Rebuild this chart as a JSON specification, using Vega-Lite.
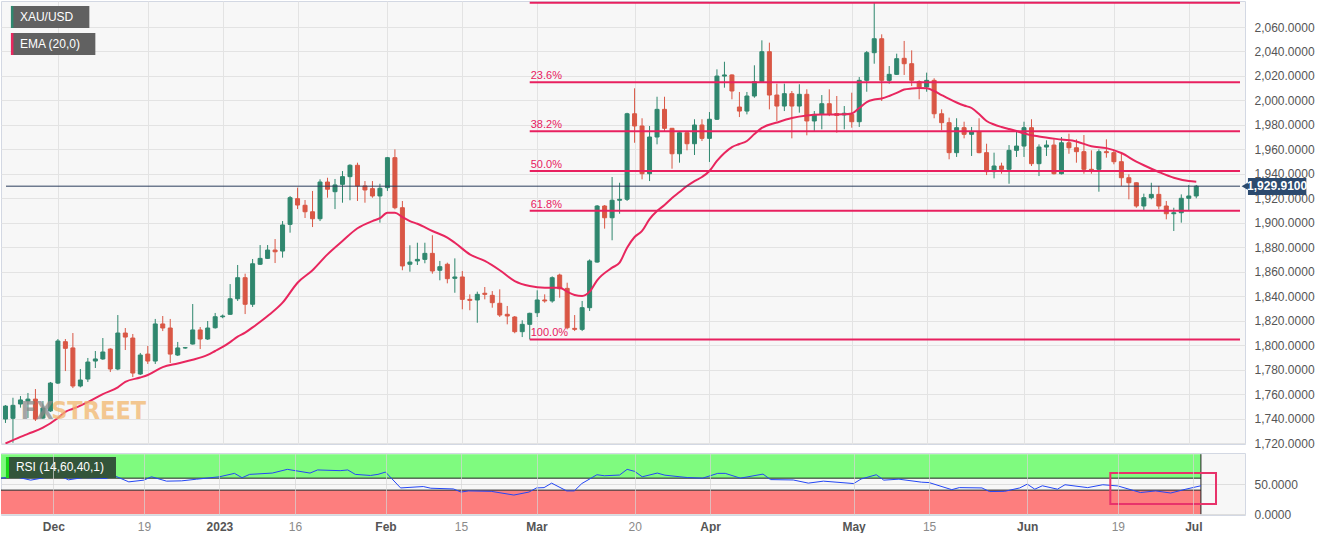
{
  "$schema": "https://vega.github.io/schema/vega-lite/v6.json",
  "padding": 0,
  "background": "#ffffff",
  "spacing": 2,
  "config": {
    "font": "Liberation Sans",
    "view": {"stroke": "#d3d8e3", "fill": "#f7f7f7"},
    "axis": {"labelFont": "Liberation Sans", "labelFontSize": 12, "labelColor": "#555555", "gridColor": "#e3e3e3", "gridWidth": 1, "domain": false, "ticks": false, "tickSize": 0, "labelOverlap": false}
  },
  "datasets": {
    "candles": [
      {"d":"2022-11-22","s":-7,"o":1739.6,"h":1751.0,"l":1736.4,"c":1750.2},
      {"d":"2022-11-23","s":-6,"o":1740.2,"h":1757.0,"l":1720.2,"c":1750.8},
      {"d":"2022-11-24","s":-5,"o":1751.9,"h":1758.4,"l":1748.9,"c":1755.2},
      {"d":"2022-11-25","s":-4,"o":1754.3,"h":1760.9,"l":1740.4,"c":1755.9},
      {"d":"2022-11-28","s":-3,"o":1755.9,"h":1764.1,"l":1738.0,"c":1739.6},
      {"d":"2022-11-29","s":-2,"o":1740.4,"h":1754.3,"l":1739.6,"c":1748.6},
      {"d":"2022-11-30","s":-1,"o":1746.2,"h":1769.9,"l":1745.4,"c":1769.0},
      {"d":"2022-12-01","s":0,"o":1769.0,"h":1805.0,"l":1768.2,"c":1803.4},
      {"d":"2022-12-02","s":1,"o":1802.8,"h":1805.0,"l":1778.8,"c":1797.4},
      {"d":"2022-12-05","s":2,"o":1797.7,"h":1809.9,"l":1764.9,"c":1766.6},
      {"d":"2022-12-06","s":3,"o":1766.6,"h":1780.5,"l":1765.5,"c":1771.5},
      {"d":"2022-12-07","s":4,"o":1772.3,"h":1789.5,"l":1769.9,"c":1786.2},
      {"d":"2022-12-08","s":5,"o":1787.0,"h":1795.2,"l":1781.3,"c":1788.7},
      {"d":"2022-12-09","s":6,"o":1788.7,"h":1805.8,"l":1788.0,"c":1794.4},
      {"d":"2022-12-12","s":7,"o":1796.8,"h":1797.5,"l":1778.0,"c":1780.5},
      {"d":"2022-12-13","s":8,"o":1780.5,"h":1824.6,"l":1779.5,"c":1809.9},
      {"d":"2022-12-14","s":9,"o":1809.9,"h":1814.0,"l":1796.0,"c":1806.6},
      {"d":"2022-12-15","s":10,"o":1805.8,"h":1809.1,"l":1773.9,"c":1777.2},
      {"d":"2022-12-16","s":11,"o":1776.4,"h":1793.6,"l":1775.6,"c":1791.9},
      {"d":"2022-12-19","s":12,"o":1792.7,"h":1799.3,"l":1784.6,"c":1787.0},
      {"d":"2022-12-20","s":13,"o":1787.0,"h":1821.4,"l":1784.6,"c":1817.3},
      {"d":"2022-12-21","s":14,"o":1817.3,"h":1823.8,"l":1811.5,"c":1814.0},
      {"d":"2022-12-22","s":15,"o":1814.0,"h":1821.4,"l":1785.4,"c":1792.7},
      {"d":"2022-12-23","s":16,"o":1791.9,"h":1802.6,"l":1791.1,"c":1797.7},
      {"d":"2022-12-26","s":17,"o":1797.7,"h":1798.5,"l":1797.0,"c":1797.9},
      {"d":"2022-12-27","s":18,"o":1800.9,"h":1833.6,"l":1800.5,"c":1812.4},
      {"d":"2022-12-28","s":19,"o":1812.4,"h":1814.8,"l":1796.8,"c":1805.0},
      {"d":"2022-12-29","s":20,"o":1805.0,"h":1819.7,"l":1804.2,"c":1814.0},
      {"d":"2022-12-30","s":21,"o":1814.2,"h":1826.3,"l":1813.5,"c":1823.2},
      {"d":"2023-01-02","s":22,"o":1823.2,"h":1825.0,"l":1822.0,"c":1823.8},
      {"d":"2023-01-03","s":23,"o":1825.2,"h":1849.9,"l":1824.8,"c":1837.9},
      {"d":"2023-01-04","s":24,"o":1837.9,"h":1865.5,"l":1836.1,"c":1855.1},
      {"d":"2023-01-05","s":25,"o":1855.1,"h":1858.4,"l":1825.4,"c":1833.4},
      {"d":"2023-01-06","s":26,"o":1833.4,"h":1870.4,"l":1831.2,"c":1866.5},
      {"d":"2023-01-09","s":27,"o":1866.1,"h":1881.8,"l":1865.5,"c":1870.9},
      {"d":"2023-01-10","s":28,"o":1870.9,"h":1881.8,"l":1870.4,"c":1877.7},
      {"d":"2023-01-11","s":29,"o":1877.7,"h":1886.7,"l":1867.1,"c":1876.3},
      {"d":"2023-01-12","s":30,"o":1876.9,"h":1901.4,"l":1871.5,"c":1898.2},
      {"d":"2023-01-13","s":31,"o":1898.7,"h":1921.9,"l":1891.9,"c":1920.5},
      {"d":"2023-01-16","s":32,"o":1919.7,"h":1928.7,"l":1911.2,"c":1914.5},
      {"d":"2023-01-17","s":33,"o":1914.3,"h":1918.6,"l":1903.9,"c":1909.0},
      {"d":"2023-01-18","s":34,"o":1909.0,"h":1926.0,"l":1896.5,"c":1903.3},
      {"d":"2023-01-19","s":35,"o":1903.3,"h":1935.5,"l":1901.4,"c":1933.3},
      {"d":"2023-01-20","s":36,"o":1933.3,"h":1936.8,"l":1920.5,"c":1927.4},
      {"d":"2023-01-23","s":37,"o":1925.4,"h":1935.8,"l":1911.2,"c":1930.9},
      {"d":"2023-01-24","s":38,"o":1931.4,"h":1942.3,"l":1916.4,"c":1937.7},
      {"d":"2023-01-25","s":39,"o":1937.7,"h":1947.8,"l":1918.4,"c":1947.0},
      {"d":"2023-01-26","s":40,"o":1947.0,"h":1949.1,"l":1917.8,"c":1930.1},
      {"d":"2023-01-27","s":41,"o":1930.1,"h":1934.1,"l":1916.4,"c":1926.8},
      {"d":"2023-01-30","s":42,"o":1927.9,"h":1934.1,"l":1920.5,"c":1921.9},
      {"d":"2023-01-31","s":43,"o":1921.9,"h":1931.9,"l":1900.1,"c":1928.2},
      {"d":"2023-02-01","s":44,"o":1928.7,"h":1953.8,"l":1926.0,"c":1953.2},
      {"d":"2023-02-02","s":45,"o":1953.2,"h":1960.0,"l":1911.0,"c":1912.3},
      {"d":"2023-02-03","s":46,"o":1912.3,"h":1917.8,"l":1861.2,"c":1864.7},
      {"d":"2023-02-06","s":47,"o":1866.1,"h":1881.6,"l":1860.0,"c":1867.9},
      {"d":"2023-02-07","s":48,"o":1868.8,"h":1883.7,"l":1865.5,"c":1870.1},
      {"d":"2023-02-08","s":49,"o":1870.1,"h":1883.7,"l":1866.9,"c":1875.0},
      {"d":"2023-02-09","s":50,"o":1875.0,"h":1889.8,"l":1858.4,"c":1860.6},
      {"d":"2023-02-10","s":51,"o":1861.2,"h":1868.8,"l":1853.0,"c":1864.1},
      {"d":"2023-02-13","s":52,"o":1866.1,"h":1867.4,"l":1850.5,"c":1854.3},
      {"d":"2023-02-14","s":53,"o":1854.6,"h":1870.9,"l":1842.8,"c":1855.7},
      {"d":"2023-02-15","s":54,"o":1855.7,"h":1860.6,"l":1829.3,"c":1837.4},
      {"d":"2023-02-16","s":55,"o":1837.4,"h":1841.5,"l":1828.5,"c":1836.6},
      {"d":"2023-02-17","s":56,"o":1836.9,"h":1843.7,"l":1818.3,"c":1841.5},
      {"d":"2023-02-20","s":57,"o":1842.4,"h":1847.5,"l":1837.4,"c":1841.5},
      {"d":"2023-02-21","s":58,"o":1840.7,"h":1844.2,"l":1830.6,"c":1834.7},
      {"d":"2023-02-22","s":59,"o":1834.2,"h":1845.6,"l":1823.0,"c":1824.6},
      {"d":"2023-02-23","s":60,"o":1825.2,"h":1832.0,"l":1817.0,"c":1823.8},
      {"d":"2023-02-24","s":61,"o":1823.0,"h":1823.8,"l":1809.7,"c":1811.0},
      {"d":"2023-02-27","s":62,"o":1811.0,"h":1820.3,"l":1806.6,"c":1817.0},
      {"d":"2023-02-28","s":63,"o":1817.0,"h":1826.5,"l":1804.7,"c":1826.0},
      {"d":"2023-03-01","s":64,"o":1826.5,"h":1844.8,"l":1823.0,"c":1836.9},
      {"d":"2023-03-02","s":65,"o":1836.9,"h":1841.5,"l":1834.7,"c":1836.1},
      {"d":"2023-03-03","s":66,"o":1836.1,"h":1856.2,"l":1834.7,"c":1855.1},
      {"d":"2023-03-06","s":67,"o":1857.3,"h":1858.4,"l":1838.8,"c":1846.0},
      {"d":"2023-03-07","s":68,"o":1846.4,"h":1851.0,"l":1812.9,"c":1814.2},
      {"d":"2023-03-08","s":69,"o":1813.7,"h":1824.6,"l":1811.5,"c":1812.9},
      {"d":"2023-03-09","s":70,"o":1812.9,"h":1836.1,"l":1811.5,"c":1830.6},
      {"d":"2023-03-10","s":71,"o":1830.6,"h":1870.1,"l":1827.9,"c":1868.8},
      {"d":"2023-03-13","s":72,"o":1867.9,"h":1914.5,"l":1867.4,"c":1913.7},
      {"d":"2023-03-14","s":73,"o":1913.7,"h":1914.5,"l":1895.2,"c":1904.1},
      {"d":"2023-03-15","s":74,"o":1904.1,"h":1937.4,"l":1885.7,"c":1918.4},
      {"d":"2023-03-16","s":75,"o":1918.4,"h":1932.7,"l":1907.4,"c":1919.2},
      {"d":"2023-03-17","s":76,"o":1919.2,"h":1989.9,"l":1917.8,"c":1989.1},
      {"d":"2023-03-20","s":77,"o":1989.1,"h":2009.9,"l":1965.4,"c":1979.1},
      {"d":"2023-03-21","s":78,"o":1979.1,"h":1985.4,"l":1935.5,"c":1940.1},
      {"d":"2023-03-22","s":79,"o":1940.1,"h":1979.1,"l":1934.1,"c":1970.1},
      {"d":"2023-03-23","s":80,"o":1970.1,"h":2003.0,"l":1964.1,"c":1992.7},
      {"d":"2023-03-24","s":81,"o":1992.7,"h":2003.0,"l":1975.0,"c":1977.2},
      {"d":"2023-03-27","s":82,"o":1977.2,"h":1977.5,"l":1944.2,"c":1956.4},
      {"d":"2023-03-28","s":83,"o":1956.4,"h":1974.0,"l":1949.1,"c":1973.6},
      {"d":"2023-03-29","s":84,"o":1973.6,"h":1974.0,"l":1959.2,"c":1964.6},
      {"d":"2023-03-30","s":85,"o":1964.6,"h":1984.6,"l":1955.4,"c":1979.9},
      {"d":"2023-03-31","s":86,"o":1979.9,"h":1984.6,"l":1966.8,"c":1969.0},
      {"d":"2023-04-03","s":87,"o":1969.0,"h":1990.5,"l":1949.7,"c":1984.6},
      {"d":"2023-04-04","s":88,"o":1984.6,"h":2025.4,"l":1984.0,"c":2019.9},
      {"d":"2023-04-05","s":89,"o":2019.9,"h":2031.6,"l":2010.4,"c":2020.8},
      {"d":"2023-04-06","s":90,"o":2020.8,"h":2021.3,"l":2000.9,"c":2007.7},
      {"d":"2023-04-10","s":91,"o":1994.6,"h":2006.9,"l":1986.4,"c":1991.3},
      {"d":"2023-04-11","s":92,"o":1991.3,"h":2006.9,"l":1988.6,"c":2003.6},
      {"d":"2023-04-12","s":93,"o":2003.6,"h":2028.7,"l":2002.2,"c":2015.3},
      {"d":"2023-04-13","s":94,"o":2015.3,"h":2049.1,"l":2014.8,"c":2039.8},
      {"d":"2023-04-14","s":95,"o":2039.8,"h":2047.2,"l":1992.7,"c":2004.4},
      {"d":"2023-04-17","s":96,"o":2004.4,"h":2013.7,"l":1983.2,"c":1995.4},
      {"d":"2023-04-18","s":97,"o":1995.4,"h":2013.7,"l":1991.3,"c":2005.5},
      {"d":"2023-04-19","s":98,"o":2005.5,"h":2007.7,"l":1969.0,"c":1995.4},
      {"d":"2023-04-20","s":99,"o":1995.4,"h":2013.2,"l":1990.0,"c":2005.0},
      {"d":"2023-04-21","s":100,"o":2005.0,"h":2009.1,"l":1971.5,"c":1983.2},
      {"d":"2023-04-24","s":101,"o":1983.2,"h":1991.3,"l":1975.0,"c":1988.6},
      {"d":"2023-04-25","s":102,"o":1988.6,"h":2004.4,"l":1976.4,"c":1997.3},
      {"d":"2023-04-26","s":103,"o":1997.3,"h":2009.1,"l":1987.2,"c":1988.6},
      {"d":"2023-04-27","s":104,"o":1989.3,"h":2003.6,"l":1973.6,"c":1987.7},
      {"d":"2023-04-28","s":105,"o":1988.1,"h":1995.4,"l":1976.4,"c":1989.5},
      {"d":"2023-05-01","s":106,"o":1988.6,"h":2006.3,"l":1977.7,"c":1982.6},
      {"d":"2023-05-02","s":107,"o":1982.6,"h":2019.1,"l":1978.3,"c":2016.4},
      {"d":"2023-05-03","s":108,"o":2016.4,"h":2040.4,"l":2007.1,"c":2039.0},
      {"d":"2023-05-04","s":109,"o":2039.0,"h":2079.8,"l":2030.0,"c":2050.4},
      {"d":"2023-05-05","s":110,"o":2050.4,"h":2054.0,"l":1999.5,"c":2016.4},
      {"d":"2023-05-08","s":111,"o":2016.4,"h":2028.1,"l":2013.7,"c":2021.3},
      {"d":"2023-05-09","s":112,"o":2021.3,"h":2038.2,"l":2020.8,"c":2034.1},
      {"d":"2023-05-10","s":113,"o":2034.4,"h":2048.6,"l":2020.8,"c":2030.0},
      {"d":"2023-05-11","s":114,"o":2030.0,"h":2040.9,"l":2011.8,"c":2016.4},
      {"d":"2023-05-12","s":115,"o":2015.3,"h":2016.4,"l":2000.9,"c":2011.0},
      {"d":"2023-05-15","s":116,"o":2011.0,"h":2022.7,"l":2007.1,"c":2016.4},
      {"d":"2023-05-16","s":117,"o":2016.4,"h":2018.1,"l":1985.4,"c":1989.1},
      {"d":"2023-05-17","s":118,"o":1989.1,"h":1992.7,"l":1975.6,"c":1981.8},
      {"d":"2023-05-18","s":119,"o":1981.8,"h":1985.9,"l":1951.9,"c":1957.3},
      {"d":"2023-05-19","s":120,"o":1957.3,"h":1985.4,"l":1953.8,"c":1977.7},
      {"d":"2023-05-22","s":121,"o":1977.7,"h":1982.6,"l":1969.0,"c":1972.3},
      {"d":"2023-05-23","s":122,"o":1972.3,"h":1978.3,"l":1954.6,"c":1974.4},
      {"d":"2023-05-24","s":123,"o":1974.4,"h":1985.4,"l":1956.8,"c":1957.3},
      {"d":"2023-05-25","s":124,"o":1957.3,"h":1964.6,"l":1939.0,"c":1941.8},
      {"d":"2023-05-26","s":125,"o":1941.8,"h":1957.3,"l":1936.3,"c":1946.4},
      {"d":"2023-05-29","s":126,"o":1946.4,"h":1949.1,"l":1940.1,"c":1943.7},
      {"d":"2023-05-30","s":127,"o":1943.7,"h":1963.5,"l":1931.9,"c":1959.2},
      {"d":"2023-05-31","s":128,"o":1959.2,"h":1975.0,"l":1953.8,"c":1962.7},
      {"d":"2023-06-01","s":129,"o":1962.7,"h":1982.6,"l":1953.8,"c":1977.7},
      {"d":"2023-06-02","s":130,"o":1977.7,"h":1984.6,"l":1946.4,"c":1948.3},
      {"d":"2023-06-05","s":131,"o":1948.3,"h":1964.1,"l":1938.2,"c":1961.9},
      {"d":"2023-06-06","s":132,"o":1961.9,"h":1967.4,"l":1954.6,"c":1963.5},
      {"d":"2023-06-07","s":133,"o":1963.5,"h":1968.2,"l":1939.5,"c":1940.1},
      {"d":"2023-06-08","s":134,"o":1940.1,"h":1970.1,"l":1939.5,"c":1965.4},
      {"d":"2023-06-09","s":135,"o":1965.4,"h":1972.8,"l":1956.4,"c":1961.3},
      {"d":"2023-06-12","s":136,"o":1961.3,"h":1968.2,"l":1949.1,"c":1958.1},
      {"d":"2023-06-13","s":137,"o":1958.1,"h":1971.7,"l":1940.1,"c":1943.7},
      {"d":"2023-06-14","s":138,"o":1943.7,"h":1959.2,"l":1940.1,"c":1942.9},
      {"d":"2023-06-15","s":139,"o":1943.7,"h":1960.0,"l":1925.4,"c":1958.1},
      {"d":"2023-06-16","s":140,"o":1958.1,"h":1968.2,"l":1953.2,"c":1957.3},
      {"d":"2023-06-19","s":141,"o":1957.3,"h":1960.0,"l":1947.8,"c":1949.9},
      {"d":"2023-06-20","s":142,"o":1949.9,"h":1956.4,"l":1930.1,"c":1936.8},
      {"d":"2023-06-21","s":143,"o":1936.8,"h":1939.6,"l":1919.2,"c":1932.7},
      {"d":"2023-06-22","s":144,"o":1932.7,"h":1933.0,"l":1912.3,"c":1913.7},
      {"d":"2023-06-23","s":145,"o":1913.7,"h":1923.8,"l":1909.6,"c":1920.5},
      {"d":"2023-06-26","s":146,"o":1920.5,"h":1932.7,"l":1919.2,"c":1923.2},
      {"d":"2023-06-27","s":147,"o":1923.2,"h":1930.1,"l":1911.0,"c":1913.7},
      {"d":"2023-06-28","s":148,"o":1913.7,"h":1917.8,"l":1902.8,"c":1907.4},
      {"d":"2023-06-29","s":149,"o":1907.4,"h":1912.3,"l":1893.3,"c":1908.2},
      {"d":"2023-06-30","s":150,"o":1908.2,"h":1923.2,"l":1900.1,"c":1920.0},
      {"d":"2023-07-03","s":151,"o":1920.0,"h":1930.9,"l":1910.2,"c":1921.9},
      {"d":"2023-07-04","s":152,"o":1921.9,"h":1930.9,"l":1920.0,"c":1929.9}
    ],
    "ema": [
      {"s":-7,"v":1719.6},{"s":-5,"v":1725},{"s":-4,"v":1727.5},{"s":-2,"v":1732.5},{"s":0,"v":1740.5},{"s":1,"v":1745.5},{"s":2,"v":1748},{"s":3,"v":1750.5},{"s":4,"v":1753.5},{"s":6,"v":1760},{"s":8,"v":1765.5},{"s":9,"v":1770},{"s":11,"v":1773.5},{"s":12,"v":1775.6},{"s":14,"v":1782},{"s":16,"v":1785},{"s":18,"v":1788},{"s":20,"v":1792},{"s":21,"v":1795.2},{"s":22,"v":1798.5},{"s":23,"v":1802.5},{"s":24,"v":1806.9},{"s":25,"v":1810.2},{"s":26,"v":1814.5},{"s":28,"v":1823.8},{"s":30,"v":1834.7},{"s":32,"v":1851},{"s":34,"v":1861.2},{"s":36,"v":1874.2},{"s":38,"v":1885.1},{"s":40,"v":1895.5},{"s":42,"v":1901.4},{"s":43,"v":1903.7},{"s":44,"v":1908.2},{"s":45,"v":1908.2},{"s":46,"v":1904.7},{"s":47,"v":1901.4},{"s":48,"v":1899.2},{"s":50,"v":1893.3},{"s":52,"v":1887.8},{"s":53,"v":1883.7},{"s":55,"v":1874.2},{"s":57,"v":1868.8},{"s":59,"v":1861.2},{"s":61,"v":1852.4},{"s":63,"v":1848.3},{"s":65,"v":1846.9},{"s":67,"v":1846.9},{"s":68,"v":1843.7},{"s":69,"v":1841},{"s":70,"v":1840.2},{"s":71,"v":1843.7},{"s":72,"v":1853},{"s":74,"v":1863.3},{"s":75,"v":1867.4},{"s":76,"v":1879.6},{"s":77,"v":1888.4},{"s":78,"v":1893.3},{"s":79,"v":1903},{"s":80,"v":1909.6},{"s":81,"v":1914.5},{"s":82,"v":1920.2},{"s":83,"v":1925.1},{"s":84,"v":1930},{"s":85,"v":1934.1},{"s":86,"v":1937.4},{"s":87,"v":1942.3},{"s":88,"v":1950.5},{"s":89,"v":1957},{"s":90,"v":1961.9},{"s":91,"v":1964.4},{"s":92,"v":1966.8},{"s":93,"v":1972.5},{"s":94,"v":1977.5},{"s":96,"v":1981.9},{"s":98,"v":1985.6},{"s":100,"v":1987.7},{"s":102,"v":1988.5},{"s":105,"v":1988.6},{"s":106,"v":1989.3},{"s":107,"v":1993.8},{"s":108,"v":1998.7},{"s":109,"v":2000.7},{"s":110,"v":2001.6},{"s":111,"v":2003.6},{"s":112,"v":2006.1},{"s":113,"v":2008.9},{"s":114,"v":2009.7},{"s":115,"v":2010.1},{"s":116,"v":2009.9},{"s":117,"v":2007.7},{"s":118,"v":2004.4},{"s":119,"v":2001.2},{"s":120,"v":1998.3},{"s":121,"v":1995.8},{"s":122,"v":1993.8},{"s":123,"v":1988.9},{"s":124,"v":1983.2},{"s":125,"v":1980.3},{"s":126,"v":1978.3},{"s":127,"v":1976.6},{"s":128,"v":1975},{"s":129,"v":1973},{"s":131,"v":1970.5},{"s":134,"v":1968},{"s":136,"v":1966.5},{"s":138,"v":1962.5},{"s":140,"v":1961},{"s":142,"v":1957},{"s":144,"v":1950},{"s":145,"v":1947},{"s":147,"v":1941.5},{"s":149,"v":1936.8},{"s":151,"v":1934.1},{"s":152,"v":1933.6}
    ],
    "rsi": [
      {"s":-7,"v":60},{"s":-5,"v":62.3},{"s":-3,"v":56.7},{"s":-1,"v":61.2},{"s":0,"v":68.5},{"s":2,"v":57.2},{"s":4,"v":61.1},{"s":7,"v":59.5},{"s":8,"v":64.5},{"s":10,"v":53.8},{"s":12,"v":56.7},{"s":13,"v":62.3},{"s":15,"v":55},{"s":17,"v":55.5},{"s":19,"v":58.3},{"s":22,"v":62.3},{"s":24,"v":68},{"s":25,"v":60.7},{"s":26,"v":66.3},{"s":29,"v":68.5},{"s":31,"v":74.7},{"s":34,"v":68.5},{"s":35,"v":73.7},{"s":38,"v":72.5},{"s":39,"v":73.7},{"s":40,"v":66.3},{"s":42,"v":64.5},{"s":43,"v":66.3},{"s":44,"v":70.2},{"s":46,"v":43.7},{"s":49,"v":46},{"s":50,"v":43.2},{"s":53,"v":42},{"s":54,"v":36.8},{"s":55,"v":38.7},{"s":58,"v":38},{"s":61,"v":31.8},{"s":63,"v":36.8},{"s":64,"v":43.7},{"s":65,"v":44.2},{"s":66,"v":51.7},{"s":68,"v":38.7},{"s":69,"v":38.7},{"s":70,"v":51},{"s":72,"v":65.7},{"s":73,"v":64},{"s":75,"v":65.2},{"s":76,"v":74.7},{"s":77,"v":71.3},{"s":78,"v":62.3},{"s":80,"v":68.5},{"s":81,"v":65},{"s":83,"v":62.3},{"s":84,"v":61},{"s":86,"v":60},{"s":88,"v":68},{"s":89,"v":68},{"s":91,"v":60},{"s":94,"v":66.8},{"s":95,"v":57.6},{"s":98,"v":57},{"s":100,"v":51.7},{"s":102,"v":55},{"s":106,"v":51},{"s":107,"v":58.6},{"s":109,"v":65.7},{"s":110,"v":56.7},{"s":112,"v":58.3},{"s":115,"v":53.3},{"s":116,"v":52.6},{"s":119,"v":40.8},{"s":120,"v":44.2},{"s":123,"v":43.7},{"s":124,"v":37.6},{"s":126,"v":38},{"s":128,"v":43.7},{"s":129,"v":50},{"s":130,"v":41.6},{"s":131,"v":47.3},{"s":133,"v":41.6},{"s":134,"v":49},{"s":137,"v":44.2},{"s":139,"v":49},{"s":141,"v":47},{"s":144,"v":36},{"s":146,"v":38.7},{"s":148,"v":35.2},{"s":150,"v":41.6},{"s":152,"v":47.3}
    ],
    "fib": [
      {"lvl":"0.0%","p":2079.8,"from":63},
      {"lvl":"23.6%","p":2014.9,"from":63},
      {"lvl":"38.2%","p":1974.7,"from":63},
      {"lvl":"50.0%","p":1942.3,"from":63},
      {"lvl":"61.8%","p":1909.8,"from":63},
      {"lvl":"100.0%","p":1804.7,"from":63}
    ],
    "zones": [
      {"zone":"overbought","lo":60,"hi":100,"edge":60},
      {"zone":"oversold","lo":0,"hi":40,"edge":40}
    ],
    "one": [{}]
  },
  "vconcat": [
    {
      "width": 1244,
      "height": 443,
      "encoding": {
        "x": {"type": "quantitative", "scale": {"domain": [-6.93, 157.84], "nice": false, "zero": false},
              "axis": {"values": [0,12,22,32,44,54,64,77,87,106,116,129,141,151], "labels": false, "grid": true, "title": null}},
        "y": {"type": "quantitative", "scale": {"domain": [1719.2, 2081.25], "nice": false, "zero": false},
              "axis": {"orient": "right", "values": [1720,1740,1760,1780,1800,1820,1840,1860,1880,1900,1920,1940,1960,1980,2000,2020,2040,2060], "format": ",.4f", "labelPadding": 9, "grid": true, "title": null, "labelOverlap": false}}
      },
      "layer": [
        {
          "data": {"name": "candles"},
          "mark": {"type": "rule", "strokeWidth": 1, "clip": true},
          "encoding": {
            "x": {"field": "s"},
            "y": {"field": "l"},
            "y2": {"field": "h"},
            "color": {"condition": {"test": "datum.c >= datum.o", "value": "#2f876e"}, "value": "#d95745"}
          }
        },
        {
          "data": {"name": "candles"},
          "mark": {"type": "bar", "size": 4, "strokeWidth": 1, "clip": true},
          "encoding": {
            "x": {"field": "s"},
            "y": {"field": "o"},
            "y2": {"field": "c"},
            "color": {"condition": {"test": "datum.c >= datum.o", "value": "#2f876e"}, "value": "#d95745"},
            "stroke": {"condition": {"test": "datum.c >= datum.o", "value": "#2f876e"}, "value": "#d95745"}
          }
        },
        {
          "data": {"name": "ema"},
          "mark": {"type": "line", "color": "#e8265e", "strokeWidth": 2, "interpolate": "monotone", "clip": true},
          "encoding": {"x": {"field": "s"}, "y": {"field": "v"}}
        },
        {
          "data": {"name": "fib"},
          "mark": {"type": "rule", "color": "#e8205f", "strokeWidth": 2, "clip": true},
          "encoding": {"x": {"field": "from"}, "x2": {"datum": 157.84}, "y": {"field": "p"}}
        },
        {
          "data": {"name": "fib"},
          "transform": [{"filter": "datum.lvl != '0.0%'"}],
          "mark": {"type": "text", "color": "#e8205f", "align": "left", "baseline": "bottom", "fontSize": 11, "dx": 1, "dy": -1},
          "encoding": {"x": {"field": "from"}, "y": {"field": "p"}, "text": {"field": "lvl"}}
        },
        {
          "data": {"name": "one"},
          "mark": {"type": "rule", "color": "#2c3e5c", "strokeWidth": 1},
          "encoding": {"x": {"datum": -6.93}, "x2": {"datum": 157.84}, "y": {"datum": 1929.91}}
        },
        {
          "data": {"name": "one"},
          "mark": {"type": "text", "text": "FX", "font": "DejaVu Sans Condensed", "fontWeight": "bold", "fontSize": 25, "color": "#8a8a8a", "opacity": 0.75, "align": "left", "baseline": "middle"},
          "encoding": {"x": {"datum": -4.95}, "y": {"datum": 1746.2}}
        },
        {
          "data": {"name": "one"},
          "mark": {"type": "text", "text": "STREET", "font": "DejaVu Sans Condensed", "fontWeight": "bold", "fontSize": 25, "color": "#f2b86e", "opacity": 0.75, "align": "left", "baseline": "middle"},
          "encoding": {"x": {"datum": -0.9}, "y": {"datum": 1746.2}}
        },
        {
          "data": {"name": "one"},
          "mark": {"type": "rect", "color": "#616161"},
          "encoding": {"x": {"datum": -6.27}, "x2": {"datum": 4.2}, "y": {"datum": 2059.2}, "y2": {"datum": 2077.2}}
        },
        {
          "data": {"name": "one"},
          "mark": {"type": "rect", "color": "#2f876e"},
          "encoding": {"x": {"datum": -6.27}, "x2": {"datum": -5.94}, "y": {"datum": 2059.2}, "y2": {"datum": 2077.2}}
        },
        {
          "data": {"name": "one"},
          "mark": {"type": "text", "text": "XAU/USD", "color": "#ffffff", "fontSize": 12, "align": "left", "baseline": "middle"},
          "encoding": {"x": {"datum": -5.07}, "y": {"datum": 2068.2}}
        },
        {
          "data": {"name": "one"},
          "mark": {"type": "rect", "color": "#616161"},
          "encoding": {"x": {"datum": -6.27}, "x2": {"datum": 5.0}, "y": {"datum": 2037.1}, "y2": {"datum": 2055.1}}
        },
        {
          "data": {"name": "one"},
          "mark": {"type": "rect", "color": "#e8265e"},
          "encoding": {"x": {"datum": -6.27}, "x2": {"datum": -5.94}, "y": {"datum": 2037.1}, "y2": {"datum": 2055.1}}
        },
        {
          "data": {"name": "one"},
          "mark": {"type": "text", "text": "EMA (20,0)", "color": "#ffffff", "fontSize": 12, "align": "left", "baseline": "middle"},
          "encoding": {"x": {"datum": -5.07}, "y": {"datum": 2046.1}}
        },
        {
          "data": {"name": "one"},
          "mark": {"type": "rect", "color": "#2c4a6e"},
          "encoding": {"x": {"datum": 158.9}, "x2": {"datum": 166.7}, "y": {"datum": 1922.7}, "y2": {"datum": 1936.6}}
        },
        {
          "data": {"name": "one"},
          "mark": {"type": "point", "shape": "triangle-left", "filled": true, "color": "#2c4a6e", "size": 90, "opacity": 1},
          "encoding": {"x": {"datum": 158.6}, "y": {"datum": 1929.91}}
        },
        {
          "data": {"name": "one"},
          "mark": {"type": "text", "text": "1,929.9100", "color": "#ffffff", "fontSize": 12, "fontWeight": "bold", "align": "center", "baseline": "middle"},
          "encoding": {"x": {"datum": 162.8}, "y": {"datum": 1929.91}}
        }
      ]
    },
    {
      "width": 1244,
      "height": 62,
      "encoding": {
        "x": {"type": "quantitative", "scale": {"domain": [-6.93, 157.84], "nice": false, "zero": false},
              "axis": {"values": [0,12,22,32,44,54,64,77,87,106,116,129,141,151], "grid": true, "gridColor": "#d6d6d6", "gridOpacity": 0.7, "zindex": 1, "title": null, "labelPadding": 6, "labelFontSize": 12,
                       "labelExpr": "datum.value==0?'Dec':datum.value==12?'19':datum.value==22?'2023':datum.value==32?'16':datum.value==44?'Feb':datum.value==54?'15':datum.value==64?'Mar':datum.value==77?'20':datum.value==87?'Apr':datum.value==106?'May':datum.value==116?'15':datum.value==129?'Jun':datum.value==141?'19':datum.value==151?'Jul':''",
                       "labelFontWeight": {"condition": {"test": "indexof([0,22,44,64,87,106,129,151], datum.value) >= 0", "value": "bold"}, "value": "normal"},
                       "labelColor": {"condition": {"test": "indexof([0,22,44,64,87,106,129,151], datum.value) >= 0", "value": "#555555"}, "value": "#8a8a8a"}}},
        "y": {"type": "quantitative", "scale": {"domain": [-1.5, 102], "nice": false, "zero": false},
              "axis": {"orient": "right", "values": [0, 50], "format": ",.4f", "labelPadding": 9, "grid": true, "gridColor": "#dedede", "title": null}}
      },
      "layer": [
        {
          "data": {"name": "zones"},
          "mark": {"type": "rect", "clip": true},
          "encoding": {
            "x": {"datum": -7},
            "x2": {"datum": 152},
            "y": {"field": "lo"},
            "y2": {"field": "hi"},
            "color": {"field": "zone", "type": "nominal", "scale": {"domain": ["overbought", "oversold"], "range": ["#7ffb7f", "#fd7e7e"]}, "legend": null}
          }
        },
        {
          "data": {"name": "zones"},
          "mark": {"type": "rule", "color": "#222222", "strokeWidth": 1, "clip": true},
          "encoding": {"x": {"datum": -7}, "x2": {"datum": 152}, "y": {"field": "edge"}}
        },
        {
          "data": {"name": "one"},
          "mark": {"type": "rule", "color": "#222222", "strokeWidth": 1},
          "encoding": {"x": {"datum": 152}, "y": {"datum": 0}, "y2": {"datum": 100}}
        },
        {
          "data": {"name": "rsi"},
          "mark": {"type": "line", "color": "#2447f5", "strokeWidth": 1, "clip": true},
          "encoding": {"x": {"field": "s"}, "y": {"field": "v"}}
        },
        {
          "data": {"name": "one"},
          "mark": {"type": "rect", "color": "#33553a"},
          "encoding": {"x": {"datum": -6.27}, "x2": {"datum": 8.3}, "y": {"datum": 60.3}, "y2": {"datum": 95.3}}
        },
        {
          "data": {"name": "one"},
          "mark": {"type": "rect", "color": "#19d919"},
          "encoding": {"x": {"datum": -6.27}, "x2": {"datum": -5.87}, "y": {"datum": 60.3}, "y2": {"datum": 95.3}}
        },
        {
          "data": {"name": "one"},
          "mark": {"type": "text", "text": "RSI (14,60,40,1)", "color": "#ffffff", "fontSize": 12, "align": "left", "baseline": "middle"},
          "encoding": {"x": {"datum": -4.95}, "y": {"datum": 77.8}}
        },
        {
          "data": {"name": "one"},
          "mark": {"type": "rect", "filled": false, "stroke": "#e8336b", "strokeWidth": 2},
          "encoding": {"x": {"datum": 140}, "x2": {"datum": 154}, "y": {"datum": 16.9}, "y2": {"datum": 68.6}}
        }
      ]
    }
  ]
}
